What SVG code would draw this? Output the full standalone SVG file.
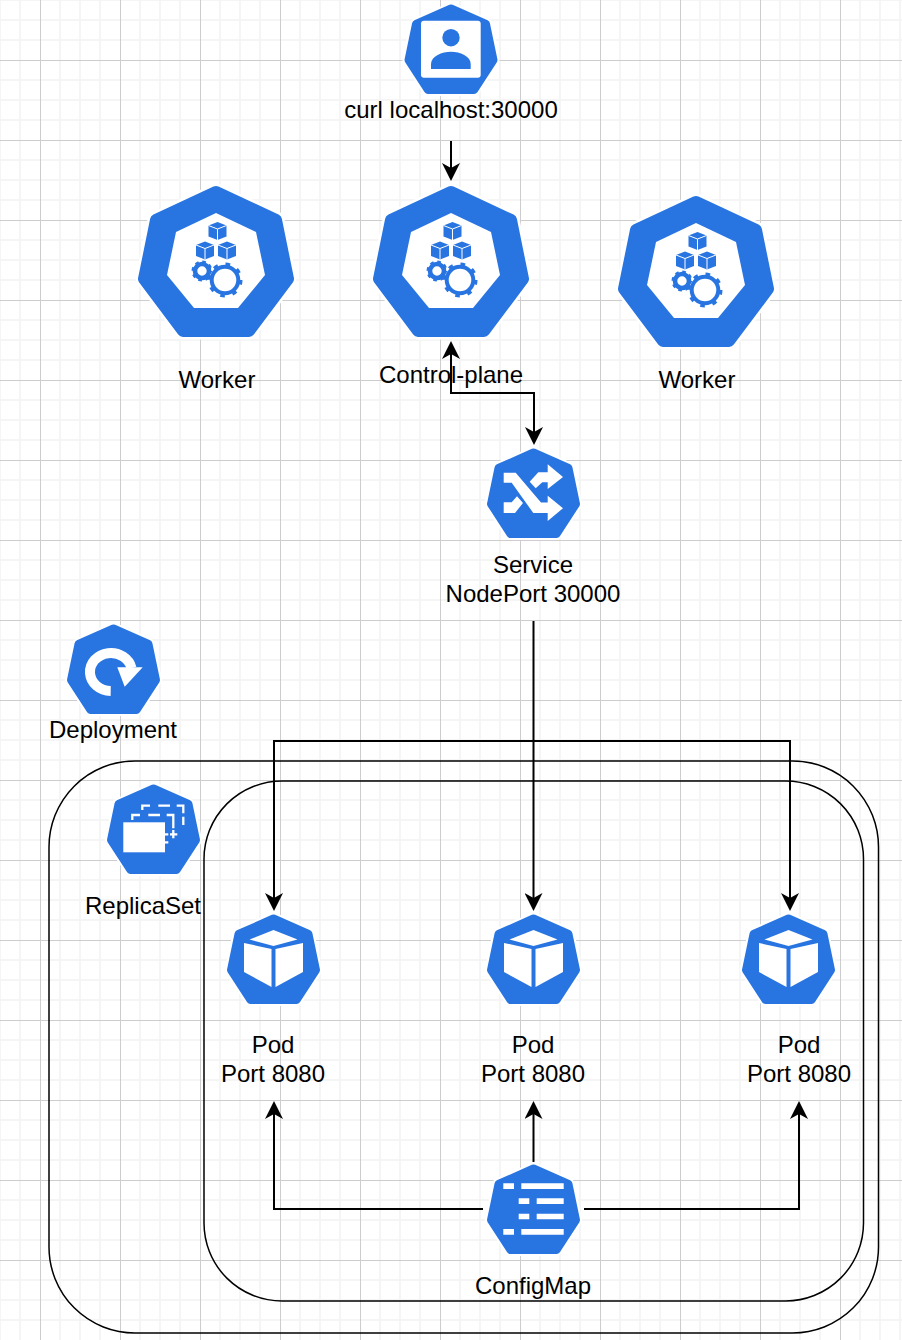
<svg xmlns="http://www.w3.org/2000/svg" width="902" height="1340" viewBox="0 0 902 1340">
<style>
text{font-family:"Liberation Sans",Arial,sans-serif;font-size:24px;fill:#000;text-anchor:middle}
.b{fill:#2875e2}
.w{fill:#fff}
.con{fill:none;stroke:#000;stroke-width:2;marker-end:url(#arr)}
.box{fill:none;stroke:#000;stroke-width:1.5}
</style>
<defs>
<pattern id="grid" patternUnits="userSpaceOnUse" width="80" height="80">
<rect width="80" height="80" fill="#fff"/>
<path d="M0 0V80M20 0V80M60 0V80M80 0V80M0 0H80M0 20H80M0 40H80M0 80H80" fill="none" stroke="#f5f5f5" stroke-width="2"/>
<path d="M40.500 0V80M0 60.500H80" fill="none" stroke="#cdcdcd" stroke-width="1"/>
</pattern>
<marker id="arr" markerUnits="userSpaceOnUse" viewBox="0 0 18 18" markerWidth="18" markerHeight="18" refX="12" refY="9" orient="auto-start-reverse"><path d="M0 0L18 9L0 18L5 9Z" fill="#000"/></marker>
<g id="hept">
<path d="M0 4.500L35 20L42.500 56L23 86H-23L-42.500 56L-35 20Z" fill="#fff" stroke="#fff" stroke-width="12" stroke-linejoin="round"/>
<path d="M0 4.500L35 20L42.500 56L23 86H-23L-42.500 56L-35 20Z" class="b" stroke="#2875e2" stroke-width="8" stroke-linejoin="round"/>
</g>
<g id="cube">
<path d="M0-9L9-5.500V5.500L0 9L-9 5.500V-5.500Z" class="b"/>
<path d="M-9-5.500L0-2L9-5.500M0-2V9" fill="none" stroke="#fff" stroke-width="1"/>
</g>
<g id="podcube">
<path d="M0-29L24-19.500L0-13L-24-19.500Z" class="w"/>
<path d="M-2-10L-29.500-16V13L-2 28ZM2-10L29.500-16V13L2 28Z" class="w"/>
</g>
<g id="cp">
<path d="M0 7L60 35L72 94L33 146H-33L-72 94L-60 35Z" fill="#fff" stroke="#fff" stroke-width="17" stroke-linejoin="round"/>
<path d="M0 7L60 35L72 94L33 146H-33L-72 94L-60 35Z" class="b" stroke="#2875e2" stroke-width="12" stroke-linejoin="round"/>
<path d="M0 28L40 47L49 90L22 123H-22L-49 90L-40 47Z" class="w"/>
<use href="#cube" x="1.500" y="46"/>
<use href="#cube" x="-11" y="65.500"/>
<use href="#cube" x="11" y="65.500"/>
<g transform="translate(-14 86)"><circle r="7" fill="#fff" stroke="#2875e2" stroke-width="4.600"/><circle r="9" fill="none" stroke="#2875e2" stroke-width="3" stroke-dasharray="3.500 3.570"/></g>
<g transform="translate(9 95)"><circle r="15.500" fill="#fff"/><circle r="13.300" fill="#fff" stroke="#2875e2" stroke-width="4"/><circle r="15.500" fill="none" stroke="#2875e2" stroke-width="4" stroke-dasharray="4.500 7.680"/></g>
</g>
</defs>

<rect id="background" width="902" height="1340" fill="url(#grid)"/>

<g id="deployment-box"><rect class="box" x="49" y="761" width="829.500" height="572" rx="86" ry="86"/></g>
<g id="replicaset-box"><rect class="box" x="204" y="781" width="659.500" height="520" rx="78" ry="78"/></g>

<g id="connectors">
<path class="con" d="M451 141V175"/>
<path class="con" d="M451 347V393H534V439" marker-start="url(#arr)"/>
<path class="con" d="M533.500 621V905"/>
<path class="con" d="M533.500 741H274V905"/>
<path class="con" d="M533.500 741H790V905"/>
<path class="con" d="M533.500 1162V1107"/>
<path class="con" d="M483 1209H274V1107"/>
<path class="con" d="M584 1209H799V1107"/>
</g>

<g id="user">
<use href="#hept" x="451" y="4"/>
<rect class="w" x="421" y="20.700" width="59.700" height="57" rx="3"/>
<circle class="b" cx="451" cy="37.700" r="8.700"/>
<path class="b" d="M431 69V64C431 56 442 51.700 451 51.700C460 51.700 470.700 56 470.700 64V69Z"/>
<text x="451" y="118">curl localhost:30000</text>
</g>

<g id="worker-left">
<use href="#cp" x="216" y="185"/>
<text x="217" y="388">Worker</text>
</g>
<g id="control-plane">
<use href="#cp" x="451" y="185"/>
<text x="451" y="383">Control-plane</text>
</g>
<g id="worker-right">
<use href="#cp" x="696" y="195"/>
<text x="697" y="388">Worker</text>
</g>

<g id="service">
<use href="#hept" x="533.500" y="448"/>
<path class="w" d="M503.700 472.700H515.700L541 502.500H547.700V495.700L563 508.300L547.700 521V513H533.300L511.700 482.700H503.700Z"/>
<path class="w" d="M529.700 481.700L538.300 472.300H547.700V464.300L563 477L547.700 489V482.300H542.300L535.700 488.300Z"/>
<path class="w" d="M503.700 502.300H511.700L517 496.300L523 503L515 513H503.700Z"/>
<text x="533" y="573">Service</text>
<text x="533" y="602">NodePort 30000</text>
</g>

<g id="deployment">
<use href="#hept" x="113.500" y="624"/>
<path d="M110.700 691A21 19 0 1 1 131.500 668" fill="none" stroke="#fff" stroke-width="10"/>
<path class="w" d="M117.300 667.300H142.700L124.700 686.700Z"/>
<text x="113" y="738">Deployment</text>
</g>

<g id="replicaset">
<use href="#hept" x="153.500" y="784"/>
<rect class="w" x="123.300" y="822.300" width="41.700" height="30"/>
<path d="M132.300 820V815H140M148.300 815H160M166.700 815H173.300V828.300M170 834.300H177.300M173.300 830V838.300M165 834.300H168.300M165 842.300H168.300M142.300 810V805.700H150M158.300 805.700H170M176.700 805.700H183.300V813.300M183.300 816.700V825" fill="none" stroke="#fff" stroke-width="2.300"/>
<text x="143" y="914">ReplicaSet</text>
</g>

<g id="pod-1">
<use href="#hept" x="273.500" y="914"/>
<use href="#podcube" x="273.500" y="959"/>
<text x="273" y="1053">Pod</text>
<text x="273" y="1082">Port 8080</text>
</g>
<g id="pod-2">
<use href="#hept" x="533.500" y="914"/>
<use href="#podcube" x="533.500" y="959"/>
<text x="533" y="1053">Pod</text>
<text x="533" y="1082">Port 8080</text>
</g>
<g id="pod-3">
<use href="#hept" x="788.500" y="914"/>
<use href="#podcube" x="788.500" y="959"/>
<text x="799" y="1053">Pod</text>
<text x="799" y="1082">Port 8080</text>
</g>

<g id="configmap">
<use href="#hept" x="533.500" y="1164"/>
<path class="w" d="M503.300 1183.300H514V1189H503.300ZM521.300 1183.300H563.700V1189H521.300ZM518.700 1198.300H529.300V1204H518.700ZM536.700 1198.300H563.700V1204H536.700ZM518.700 1213.700H529.300V1219.300H518.700ZM536.700 1213.700H563.700V1219.300H536.700ZM503.300 1229H514V1234.700H503.300ZM521.300 1229H563.700V1234.700H521.300Z"/>
<text x="533" y="1294">ConfigMap</text>
</g>
</svg>
